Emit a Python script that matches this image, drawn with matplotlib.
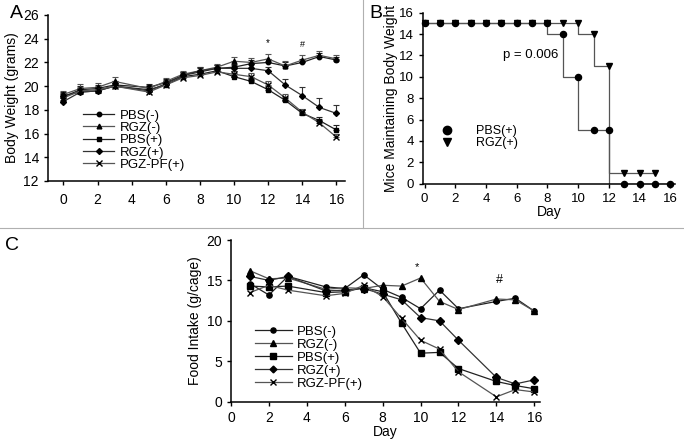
import matplotlib

matplotlib.use("Agg")
import matplotlib.pyplot as plt
import numpy as np
from matplotlib.lines import Line2D

plt.rcParams["font.family"] = ["Liberation Sans", "DejaVu Sans"]

# panel A: body weight
days_a = [0, 1, 2, 3, 5, 6, 7, 8, 9, 10, 11, 12, 13, 14, 15, 16]
bw_pbs_neg = [19.1, 19.7, 19.8, 20.1, 19.9, 20.3, 20.9, 21.2, 21.5, 21.6, 21.9, 22.0, 21.7, 22.0, 22.5, 22.2]
bw_rgz_neg = [19.3, 19.8, 19.9, 20.4, 19.8, 20.4, 21.0, 21.3, 21.6, 22.1, 22.0, 22.3, 21.7, 22.2, 22.6, 22.3]
bw_pbs_pos = [19.2, 19.5, 19.6, 20.0, 19.7, 20.1, 20.8, 21.0, 21.3, 20.8, 20.4, 19.7, 18.8, 17.7, 17.1, 16.3]
bw_rgz_pos = [18.7, 19.5, 19.6, 20.0, 19.6, 20.2, 20.9, 21.3, 21.5, 21.5, 21.5, 21.3, 20.1, 19.2, 18.2, 17.7]
bw_pf_pos = [19.0, 19.6, 19.7, 20.0, 19.5, 20.1, 20.7, 20.9, 21.2, 21.0, 20.8, 20.1, 19.0, 17.8, 16.9, 15.7]
err_pbs_neg = [0.3, 0.3, 0.3, 0.3, 0.3, 0.3, 0.3, 0.3, 0.3, 0.3, 0.3, 0.3, 0.3, 0.3, 0.3, 0.3]
err_rgz_neg = [0.3, 0.4, 0.4, 0.4, 0.3, 0.3, 0.3, 0.3, 0.3, 0.4, 0.4, 0.4, 0.4, 0.4, 0.4, 0.3]
err_pbs_pos = [0.3, 0.3, 0.3, 0.3, 0.3, 0.3, 0.3, 0.3, 0.3, 0.3, 0.3, 0.3, 0.3, 0.3, 0.3, 0.4]
err_rgz_pos = [0.3, 0.3, 0.3, 0.3, 0.3, 0.3, 0.3, 0.3, 0.3, 0.3, 0.4, 0.3, 0.5, 0.7, 0.8, 0.7]
err_pf_pos = [0.3, 0.3, 0.3, 0.3, 0.3, 0.3, 0.3, 0.3, 0.3, 0.3, 0.3, 0.3, 0.3, 0.3, 0.3, 0.3]
labels_a = ["PBS(-)", "RGZ(-)", "PBS(+)", "RGZ(+)", "PGZ-PF(+)"]

# panel B: mice maintaining body weight
days_b_pbs = [0, 1, 2, 3, 4, 5, 6, 7, 8, 9, 10, 11, 12, 13, 14, 15, 16]
mice_pbs = [15, 15, 15, 15, 15, 15, 15, 15, 15, 14, 10, 5, 5, 0, 0, 0, 0]
days_b_rgz = [0, 1, 2, 3, 4, 5, 6, 7, 8, 9, 10, 11, 12, 13, 14, 15]
mice_rgz = [15, 15, 15, 15, 15, 15, 15, 15, 15, 15, 15, 14, 11, 1, 1, 1]
labels_b = ["PBS(+)", "RGZ(+)"]

# panel C: food intake
days_c = [1, 2, 3, 5, 6, 7, 8, 9, 10, 11, 12, 14, 15, 16]
fi_pbs_neg = [14.6, 13.2, 15.5, 14.2, 14.0, 15.7, 13.9, 12.9, 11.5, 13.8, 11.5, 12.4, 12.8, 11.2]
fi_rgz_neg = [16.2, 15.2, 15.3, 13.9, 14.1, 14.0, 14.4, 14.3, 15.3, 12.4, 11.4, 12.7, 12.6, 11.2]
fi_pbs_pos = [14.3, 14.2, 14.3, 13.5, 13.6, 14.1, 13.6, 9.7, 6.0, 6.1, 4.1, 2.5, 2.0, 1.6]
fi_rgz_pos = [15.5, 15.0, 15.5, 13.7, 13.8, 14.0, 13.3, 12.6, 10.4, 10.0, 7.6, 3.0, 2.2, 2.7]
fi_pf_pos = [13.5, 14.4, 13.8, 13.1, 13.4, 14.4, 13.0, 10.3, 7.6, 6.5, 3.7, 0.6, 1.5, 1.2]
labels_c = ["PBS(-)", "RGZ(-)", "PBS(+)", "RGZ(+)", "RGZ-PF(+)"]

markers = ["o", "^", "s", "D", "x"]
msizes = [3.2, 3.4, 3.2, 3.0, 4.0]
lcolors = ["#222222", "#555555", "#222222", "#333333", "#555555"]

W, H = 684, 442
fig = plt.figure(figsize=(W / 100, H / 100), dpi=100)


def px_axes(left, top, right, bottom):
    return fig.add_axes([left / W, 1 - bottom / H, (right - left) / W, (bottom - top) / H])


def style(ax, size):
    for s in ("top", "right"):
        ax.spines[s].set_visible(False)
    for s in ("left", "bottom"):
        ax.spines[s].set_linewidth(1.1)
    ax.tick_params(direction="out", length=3, width=1.0, labelsize=size)


def handles(ms_scale=1.0):
    return [Line2D([], [], marker=m, ms=ms * ms_scale, color=c, mfc="black", mec="black", lw=0.9)
            for m, ms, c in zip(markers, msizes, lcolors)]


# --- A ---
axA = px_axes(48, 15, 345, 181)
style(axA, 10)
series_a = [bw_pbs_neg, bw_rgz_neg, bw_pbs_pos, bw_rgz_pos, bw_pf_pos]
errs_a = [err_pbs_neg, err_rgz_neg, err_pbs_pos, err_rgz_pos, err_pf_pos]
for vals, err, m, ms, c in zip(series_a, errs_a, markers, msizes, lcolors):
    err = np.asarray(err)
    axA.errorbar(days_a, vals, yerr=[np.zeros_like(err), err], marker=m, ms=ms, color=c,
                 mfc="black", mec="black", lw=0.9, elinewidth=0.8, capsize=2, capthick=0.8)
axA.set_xlim(-0.9, 16.5)
axA.set_ylim(12, 26)
axA.set_xticks(range(0, 17, 2))
axA.set_yticks(range(12, 27, 2))
axA.tick_params(axis="x", pad=6)
axA.set_ylabel("Body Weight (grams)", fontsize=10, labelpad=3)
axA.text(12, 23.6, "*", ha="center", va="center", fontsize=7)
axA.text(14, 23.55, "#", ha="center", va="center", fontsize=6.5)
axA.legend(handles(), labels_a, loc="upper left", bbox_to_anchor=(0.095, 0.47), frameon=False,
           fontsize=9.5, handlelength=2.4, handletextpad=0.4, labelspacing=0.0, borderpad=0)
fig.text(10 / W, 1 - 14 / H, "A", fontsize=14, va="center", ha="left")

# --- B ---
axB = px_axes(423, 12.7, 675, 183.7)
style(axB, 9.5)
axB.plot(days_b_pbs, mice_pbs, drawstyle="steps-pre", color="#555555", lw=0.9)
axB.plot(days_b_rgz, mice_rgz, drawstyle="steps-pre", color="#555555", lw=0.9)
axB.plot(days_b_rgz, mice_rgz, "v", color="black", ms=4.2, clip_on=False, zorder=3)
axB.plot(days_b_pbs, mice_pbs, "o", color="black", ms=4.4, clip_on=False, zorder=4)
axB.set_xlim(-0.1, 16.3)
axB.set_ylim(0, 16)
axB.set_xticks(range(0, 17, 2))
axB.set_yticks(range(0, 17, 2))
axB.set_xlabel("Day", fontsize=10, labelpad=0)
axB.set_ylabel("Mice Maintaining Body Weight", fontsize=10, labelpad=1)
axB.text(5.1, 12, "p = 0.006", ha="left", va="center", fontsize=9.5)
handles_b = [Line2D([], [], ls="none", marker="o", color="black", ms=6),
             Line2D([], [], ls="none", marker="v", color="black", ms=6)]
axB.legend(handles_b, labels_b, loc="upper left", bbox_to_anchor=(0.045, 0.38), frameon=False,
           fontsize=9, handlelength=1, handletextpad=1.8, labelspacing=0.0, borderpad=0)
fig.text(369 / W, 1 - 14 / H, "B", fontsize=14, va="center", ha="left")

# --- C ---
axC = px_axes(231, 240, 540, 401.7)
style(axC, 10)
series_c = [fi_pbs_neg, fi_rgz_neg, fi_pbs_pos, fi_rgz_pos, fi_pf_pos]
for vals, m, ms, c in zip(series_c, markers, msizes, lcolors):
    axC.plot(days_c, vals, marker=m, ms=ms + 0.6, color=c, mfc="black", mec="black", lw=0.9)
axC.set_xlim(0, 16.3)
axC.set_ylim(0, 20)
axC.set_xticks(range(0, 17, 2))
axC.set_yticks(range(0, 21, 5))
axC.set_xlabel("Day", fontsize=10, labelpad=0)
axC.set_ylabel("Food Intake (g/cage)", fontsize=10, labelpad=3)
axC.text(9.8, 16.6, "*", ha="center", va="center", fontsize=8)
axC.text(14.15, 15.0, "#", ha="center", va="center", fontsize=9)
axC.legend(handles(1.15), labels_c, loc="upper left", bbox_to_anchor=(0.055, 0.51), frameon=False,
           fontsize=9.5, handlelength=2.8, handletextpad=0.4, labelspacing=0.05, borderpad=0)
fig.text(5 / W, 1 - 245 / H, "C", fontsize=14, va="center", ha="left")

# panel separators
fig.add_artist(Line2D([0, 1], [1 - 228 / H, 1 - 228 / H], color="#b0b0b0", lw=0.8))
fig.add_artist(Line2D([363 / W, 363 / W], [1, 1 - 228 / H], color="#b0b0b0", lw=0.8))

fig.savefig("out.png", dpi=100)
